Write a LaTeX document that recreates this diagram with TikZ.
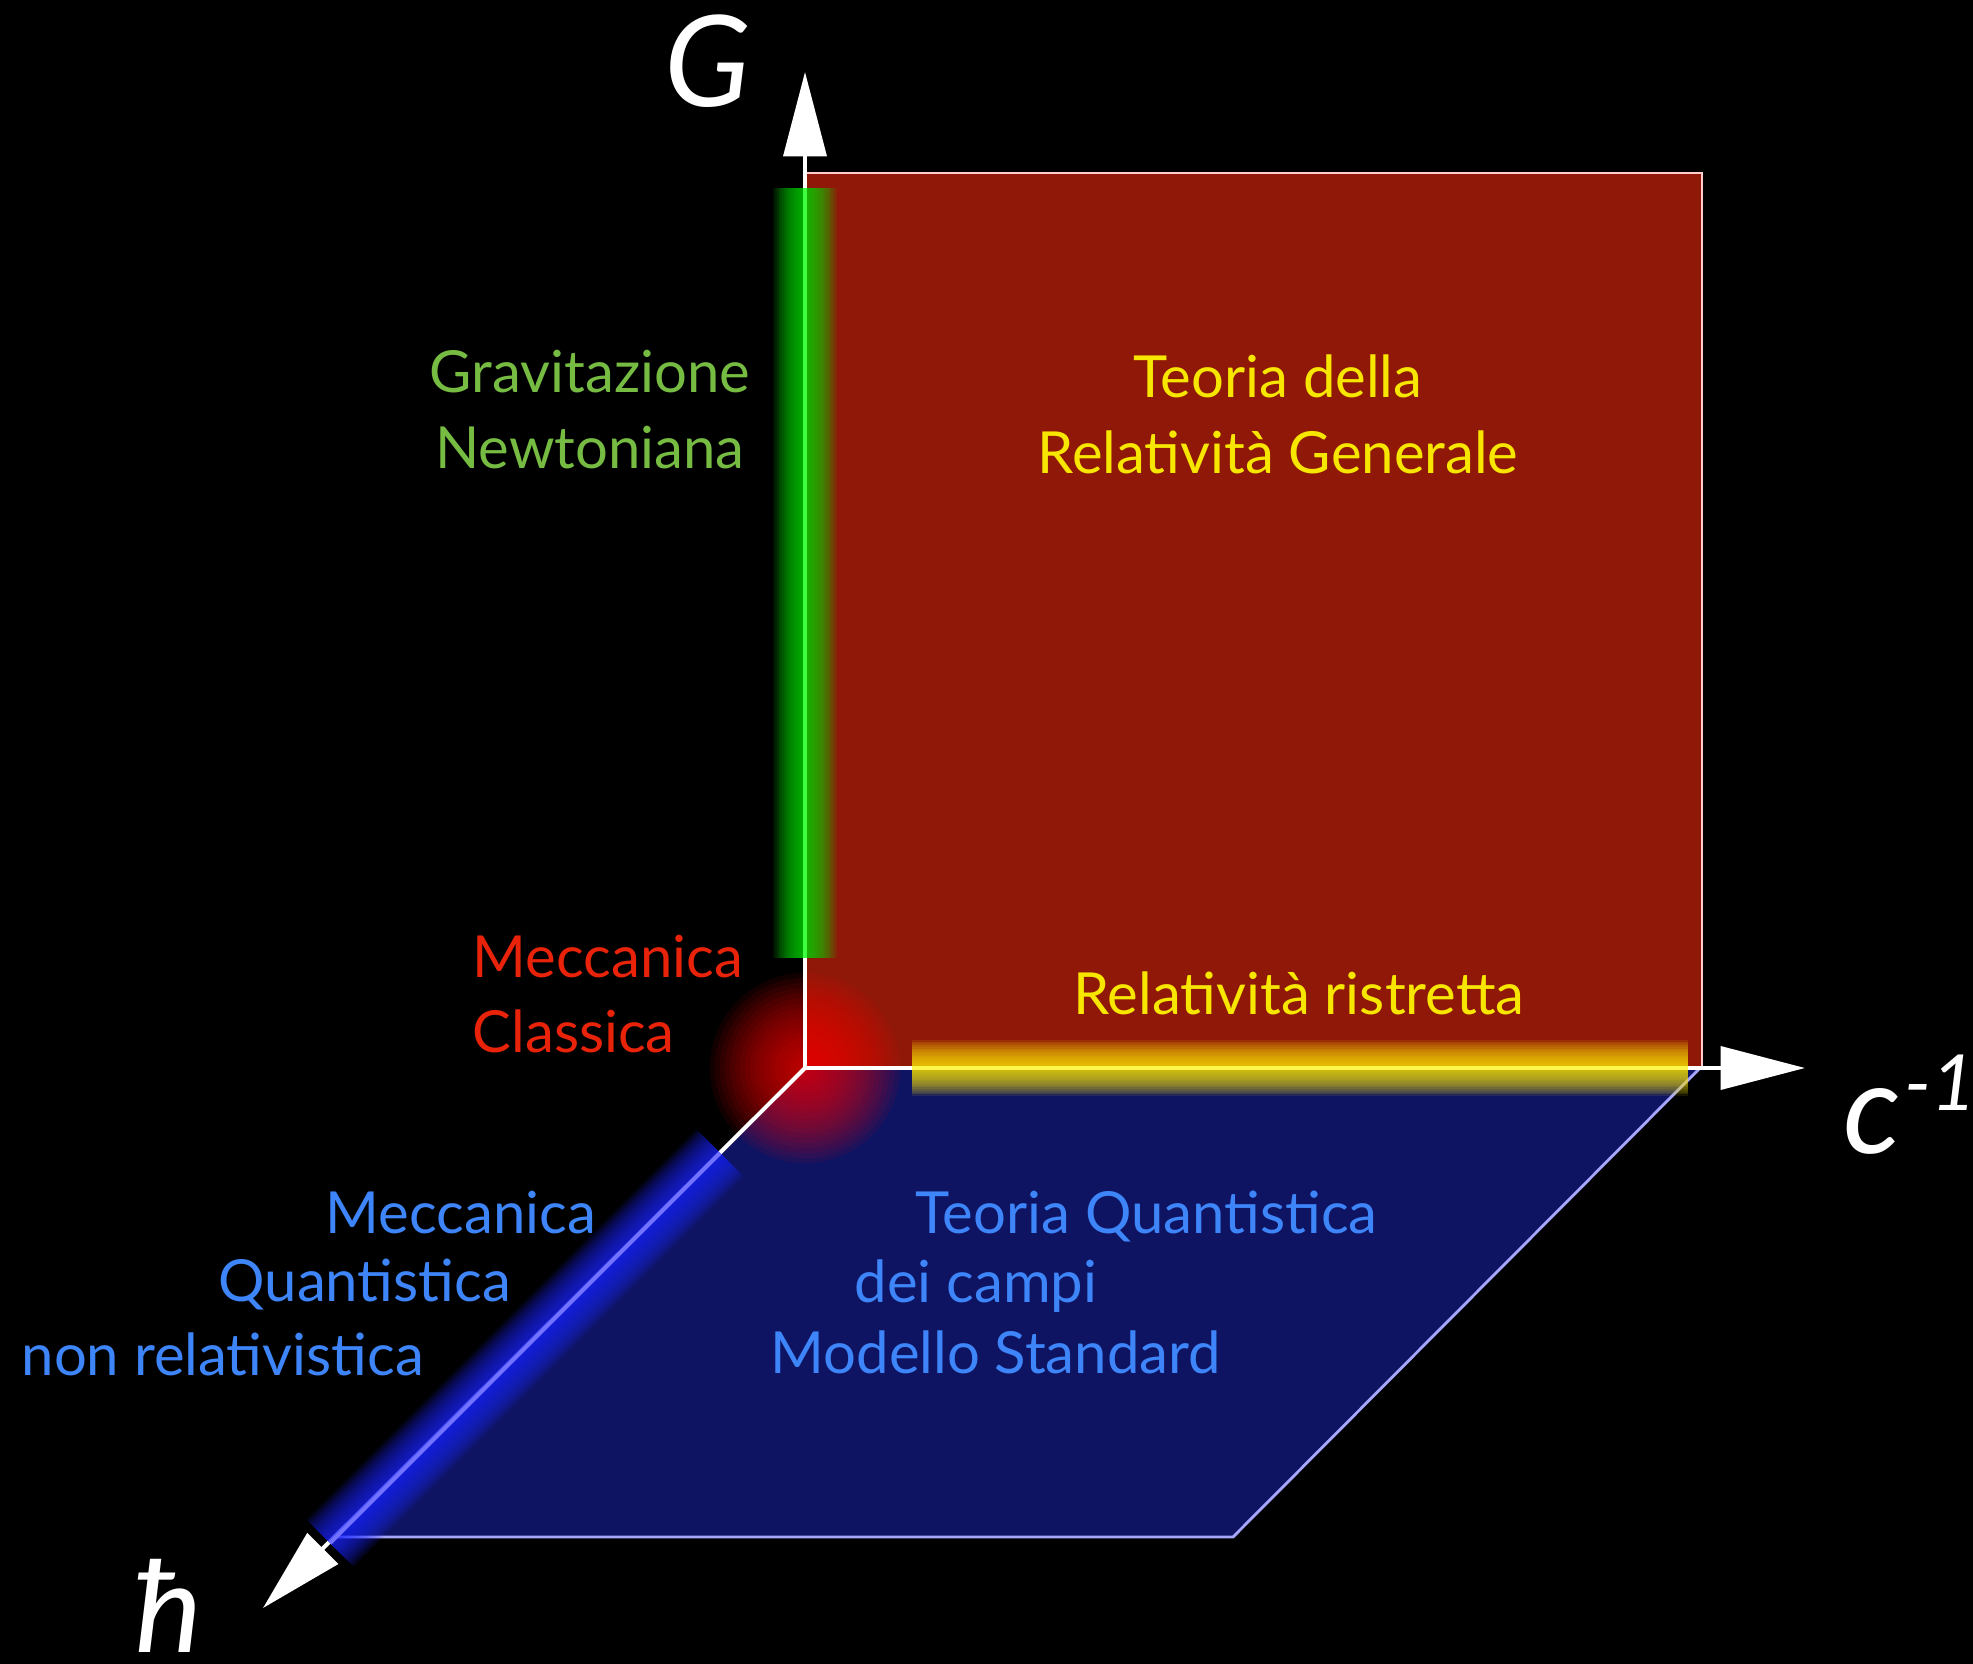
\documentclass[tikz,border=0pt]{standalone}
\usepackage{fontspec}
\setmainfont{Lato}
\usetikzlibrary{arrows.meta,positioning}
\definecolor{planered}{HTML}{901808}
\definecolor{planeblue}{HTML}{0E1462}
\definecolor{gtext}{HTML}{76BC43}
\definecolor{ytext}{HTML}{F7E600}
\definecolor{rtext}{HTML}{E8230A}
\definecolor{btext}{HTML}{3D85F8}
\definecolor{bglowc}{HTML}{1E28FF}
\tikzset{
  lbl/.style={inner sep=0pt, font=\fontsize{16.5}{20}\selectfont},
  lgreen/.style={lbl, text=gtext},
  lyellow/.style={lbl, text=ytext},
  lred/.style={lbl, text=rtext},
  lblue/.style={lbl, text=btext},
  axlbl/.style={inner sep=0pt, text=white, font=\fontsize{36}{40}\selectfont\itshape},
  axarrow/.style={draw=white, line width=1.14pt, -{Triangle[length=24pt, width=12.2pt]}},
  redrim/.style={draw=white!80!red, line width=0.7pt},
  bluerim/.style={draw=white!65!blue, line width=0.8pt},
  gglow/.style={draw=green!85!black, opacity=0.09},
  yglow/.style={draw=yellow!90!orange, opacity=0.1},
  bglow/.style={draw=bglowc, opacity=0.08},
}

\begin{document}
\begin{tikzpicture}[x=0.01cm, y=-0.01cm]
  \fill[black] (0,0) rectangle (1973,1664);
  \useasboundingbox (0,0) rectangle (1973,1664);

  \coordinate (O) at (805,1068);
  \coordinate (Gtip) at (805,72);
  \coordinate (Ctip) at (1805,1068);
  \coordinate (Htip) at (263,1608);

  % the two planes
  \fill[planered] (805,173) rectangle (1702,1068);
  \draw[redrim] (O) -- (805,173) -- (1702,173) -- (1702,1068);
  \fill[planeblue] (O) -- (1700,1068) -- (1233,1537) -- (333,1537) -- cycle;
  \draw[bluerim] (1700,1068) -- (1233,1537) -- (333,1537);

  % glow at the origin
  \foreach \r in {1,...,19}
    \fill[red, opacity=0.07] (O) circle[radius=0.05cm*\r];

  % axes
  \draw[axarrow] (O) -- (Gtip);
  \draw[axarrow] (O) -- (Ctip);
  \draw[axarrow] (O) -- (Htip);

  % glows along the axes
  \coordinate (g1) at (805,188);
  \coordinate (g2) at (805,958);
  \coordinate (y1) at (912,1068);
  \coordinate (y2) at (1688,1068);
  \coordinate (b1) at (720,1153);
  \coordinate (b2) at (330,1543);
  \foreach \w in {1,...,18}
    \draw[gglow, line width=\w pt] (g1) -- (g2);
  \draw[green!75!white, line width=1.1pt] (g1) -- (g2);
  \foreach \w in {1,...,16}
    \draw[yglow, line width=\w pt] (y1) -- (y2);
  \draw[yellow!70!white, line width=1.1pt] (y1) -- (y2);
  \foreach \w in {1,...,19}
    \draw[bglow, line width=\w pt] (b1) -- (b2);
  \draw[blue!55!white, line width=1.1pt] (b1) -- (b2);

  % axis labels
  \node[axlbl, anchor=base] (lblG) at (708,107) {G};
  \node[axlbl, anchor=base west] (lblC) at (1843,1153)
    {c\raisebox{0.42cm}{\fontsize{22}{22}\selectfont\kern1pt-1}};
  \node[axlbl, anchor=base west] (lblH) at (135,1652) {ħ};

  % region labels
  \node[lgreen, anchor=base] (grav) at (590,393) {Gravitazione};
  \node[lgreen, below=0.75cm of grav.base, anchor=base] (newt) {Newtoniana};
  \node[lyellow, anchor=base] (trg) at (1278,398) {Teoria della};
  \node[lyellow, below=0.75cm of trg.base, anchor=base] (rg) {Relatività Generale};
  \node[lred, anchor=base west] (mc) at (472,977) {Meccanica};
  \node[lred, below=0.75cm of mc.base west, anchor=base west] (cl) {Classica};
  \node[lyellow, anchor=base] (rr) at (1299,1014) {Relatività ristretta};
  \node[lblue, anchor=base west] (mq) at (325,1233) {Meccanica};
  \node[lblue, anchor=base west] (qu) at (218,1301) {Quantistica};
  \node[lblue, anchor=base west] (nr) at (21,1375) {non relativistica};
  \node[lblue, anchor=base west] (tq) at (915,1233) {Teoria Quantistica};
  \node[lblue, anchor=base west] (dc) at (854,1302) {dei campi};
  \node[lblue, anchor=base west] (ms) at (770,1373) {Modello Standard};
\end{tikzpicture}
\end{document}
